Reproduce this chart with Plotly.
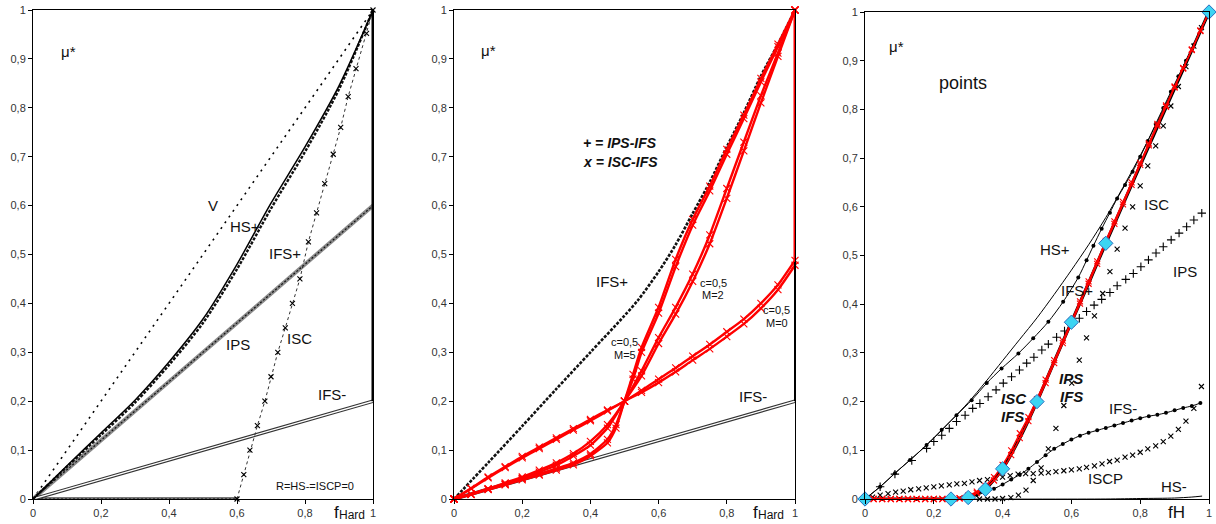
import plotly.graph_objects as go

# ---------------- Panel 1 data ----------------
p1_v_f = [0, 1]
p1_v_mu = [0, 1]
p1_f = [0, 0.1, 0.2, 0.3, 0.4, 0.5, 0.6, 0.7, 0.8, 0.9, 1.0]
p1_hsp = [0, 0.068, 0.135, 0.202, 0.28, 0.368, 0.48, 0.605, 0.72, 0.845, 1.0]
p1_ifsp = [0, 0.066, 0.131, 0.197, 0.274, 0.36, 0.47, 0.594, 0.71, 0.838, 1.0]
p1_ips_f = [0, 1]
p1_ips_mu = [0, 0.6]
p1_ifsm_f = [0, 1]
p1_ifsm_mu = [0, 0.2]
p1_isc_f = [0.6, 0.62, 0.638, 0.66, 0.682, 0.70, 0.72, 0.742, 0.763, 0.785, 0.81,
            0.834, 0.858, 0.883, 0.905, 0.927, 0.95, 0.981, 1.0]
p1_isc_mu = [0, 0.05, 0.1, 0.15, 0.2, 0.25, 0.3, 0.35, 0.4, 0.45, 0.526,
             0.585, 0.645, 0.705, 0.76, 0.823, 0.88, 0.952, 1.0]
p1_zero_f = [0, 0.6]
p1_zero_mu = [0, 0]
p1_jump_f = [1, 1]
p1_jump_mu = [0.2, 1.0]

# ---------------- Panel 2 data ----------------
p2_ifsp_f = [0, 0.1, 0.2, 0.3, 0.4, 0.5, 0.54, 0.6, 0.65, 0.7, 0.75, 0.8, 0.85, 0.9, 0.95, 1.0]
p2_ifsp_mu = [0, 0.074, 0.149, 0.225, 0.3, 0.375, 0.407, 0.465, 0.52, 0.584, 0.648, 0.72, 0.79, 0.865, 0.93, 1.0]
p2_ifsm_f = [0, 1]
p2_ifsm_mu = [0, 0.2]
p2_f = [0, 0.05, 0.1, 0.15, 0.2, 0.25, 0.3, 0.35, 0.4, 0.45, 0.5,
        0.55, 0.6, 0.65, 0.7, 0.75, 0.8, 0.85, 0.9, 0.95, 1.0]
p2_m0_a = [0, 0.022, 0.045, 0.066, 0.087, 0.106, 0.125, 0.144, 0.163, 0.182, 0.2,
           0.222, 0.245, 0.268, 0.292, 0.316, 0.342, 0.368, 0.4, 0.438, 0.488]
p2_m0_b = [0, 0.021, 0.043, 0.064, 0.084, 0.103, 0.122, 0.141, 0.16, 0.18, 0.2,
           0.218, 0.238, 0.26, 0.284, 0.307, 0.332, 0.358, 0.39, 0.428, 0.478]
p2_m2_a = [0, 0.01, 0.021, 0.033, 0.045, 0.059, 0.074, 0.093, 0.118, 0.152, 0.2,
           0.262, 0.33, 0.392, 0.46, 0.54, 0.635, 0.73, 0.825, 0.912, 1.0]
p2_m2_b = [0, 0.01, 0.02, 0.031, 0.042, 0.055, 0.069, 0.088, 0.11, 0.145, 0.2,
           0.252, 0.318, 0.378, 0.445, 0.522, 0.615, 0.712, 0.81, 0.905, 1.0]
p2_m5_f = [0, 0.05, 0.1, 0.15, 0.2, 0.25, 0.3, 0.35, 0.4, 0.45, 0.475, 0.5,
           0.525, 0.55, 0.6, 0.65, 0.7, 0.75, 0.8, 0.85, 0.9, 0.95, 1.0]
p2_m5_a = [0, 0.01, 0.02, 0.03, 0.041, 0.051, 0.062, 0.074, 0.092, 0.122, 0.152, 0.2,
           0.255, 0.31, 0.392, 0.49, 0.572, 0.64, 0.715, 0.785, 0.86, 0.93, 1.0]
p2_m5_b = [0, 0.009, 0.019, 0.029, 0.039, 0.049, 0.059, 0.07, 0.088, 0.115, 0.145, 0.2,
           0.245, 0.3, 0.38, 0.475, 0.56, 0.63, 0.705, 0.778, 0.853, 0.925, 1.0]
p2_jump_red_f = [1, 1]
p2_jump_red_mu = [0.485, 1.0]
p2_jump_blk_f = [1, 1]
p2_jump_blk_mu = [0.2, 0.485]

# ---------------- Panel 3 data ----------------
p3_hsp_f = [0, 0.05, 0.1, 0.15, 0.2, 0.25, 0.3, 0.35, 0.4, 0.45, 0.5, 0.55,
            0.6, 0.65, 0.7, 0.75, 0.8, 0.85, 0.9, 0.95, 1.0]
p3_hsp_mu = [0, 0.029, 0.061, 0.092, 0.125, 0.161, 0.198, 0.24, 0.284, 0.328, 0.372, 0.42,
             0.47, 0.522, 0.578, 0.64, 0.705, 0.775, 0.848, 0.923, 1.0]
p3_ifsp_f = [0, 0.044, 0.087, 0.131, 0.179, 0.223, 0.266, 0.31, 0.354, 0.397, 0.446, 0.489,
             0.533, 0.576, 0.62, 0.644, 0.664, 0.688, 0.712, 0.733, 0.756, 0.778, 0.8,
             0.822, 0.845, 0.867, 0.889, 0.911, 0.933, 0.956, 0.978, 1.0]
p3_ifsp_mu = [0, 0.025, 0.053, 0.08, 0.111, 0.142, 0.172, 0.203, 0.238, 0.268, 0.299, 0.33,
              0.364, 0.405, 0.455, 0.49, 0.52, 0.555, 0.588, 0.617, 0.645, 0.672, 0.703,
              0.735, 0.77, 0.803, 0.836, 0.868, 0.9, 0.933, 0.966, 1.0]
p3_ips_f = [0.044, 0.087, 0.136, 0.179, 0.2, 0.223, 0.245, 0.266, 0.291, 0.313, 0.334, 0.358,
            0.381, 0.402, 0.426, 0.449, 0.47, 0.491, 0.514, 0.533, 0.557, 0.58, 0.6, 0.623,
            0.644, 0.666, 0.688, 0.712, 0.733, 0.758, 0.78, 0.802, 0.824, 0.846, 0.867,
            0.89, 0.913, 0.935, 0.956, 0.979]
p3_ips_mu = [0.025, 0.051, 0.079, 0.104, 0.118, 0.131, 0.145, 0.159, 0.172, 0.186, 0.196, 0.21,
             0.224, 0.238, 0.251, 0.265, 0.279, 0.291, 0.306, 0.318, 0.332, 0.345, 0.358, 0.371,
             0.385, 0.398, 0.41, 0.424, 0.438, 0.451, 0.463, 0.477, 0.491, 0.505, 0.518,
             0.532, 0.546, 0.559, 0.573, 0.587]
p3_isc_f = [0.333, 0.356, 0.378, 0.4, 0.424, 0.446, 0.468, 0.489, 0.512, 0.533, 0.555, 0.578,
            0.601, 0.623, 0.644, 0.667, 0.691, 0.712, 0.733, 0.756, 0.778, 0.8, 0.822, 0.845,
            0.867, 0.889, 0.911, 0.933, 0.956, 0.978]
p3_isc_mu = [0, 0, 0, 0.001, 0.003, 0.008, 0.018, 0.038, 0.064, 0.103, 0.145, 0.192,
             0.238, 0.285, 0.331, 0.376, 0.422, 0.467, 0.513, 0.556, 0.6, 0.643, 0.684, 0.725,
             0.766, 0.807, 0.847, 0.888, 0.93, 0.968]
p3_iscp_f = [0.022, 0.044, 0.067, 0.089, 0.111, 0.133, 0.156, 0.178, 0.2, 0.222, 0.245, 0.267,
             0.289, 0.311, 0.333, 0.356, 0.378, 0.4, 0.422, 0.445, 0.467, 0.489, 0.512, 0.533,
             0.555, 0.578, 0.6, 0.623, 0.644, 0.667, 0.689, 0.711, 0.733, 0.756, 0.778, 0.8,
             0.822, 0.845, 0.867, 0.889, 0.911, 0.933, 0.956, 0.978]
p3_iscp_mu = [0.004, 0.008, 0.011, 0.014, 0.016, 0.019, 0.021, 0.023, 0.025, 0.027, 0.029, 0.031,
              0.032, 0.035, 0.038, 0.04, 0.043, 0.045, 0.048, 0.051, 0.052, 0.052, 0.053, 0.054,
              0.056, 0.058, 0.06, 0.062, 0.065, 0.068, 0.072, 0.077, 0.08, 0.086, 0.09, 0.096,
              0.103, 0.109, 0.118, 0.129, 0.143, 0.16, 0.186, 0.231]
p3_ifsm_f = [0, 0.05, 0.1, 0.15, 0.2, 0.25, 0.28, 0.3, 0.325, 0.35, 0.375, 0.4, 0.425, 0.45,
             0.475, 0.5, 0.525, 0.55, 0.575, 0.6, 0.625, 0.65, 0.675, 0.7, 0.725, 0.75,
             0.775, 0.8, 0.825, 0.85, 0.875, 0.9, 0.925, 0.95, 0.975]
p3_ifsm_mu = [0, 0, 0, 0, 0, 0, 0.002, 0.004, 0.008, 0.014, 0.021, 0.03, 0.04, 0.05,
              0.062, 0.076, 0.09, 0.103, 0.113, 0.122, 0.13, 0.136, 0.141, 0.146, 0.151, 0.156,
              0.161, 0.166, 0.17, 0.173, 0.177, 0.182, 0.187, 0.191, 0.197]
p3_hsm_f = [0, 0.7, 0.8, 0.9, 0.95, 0.98]
p3_hsm_mu = [0, 0.0, 0.001, 0.002, 0.004, 0.006]
p3_main_f = [0, 0.1, 0.2, 0.25, 0.3, 0.35, 0.4, 0.45, 0.5, 0.55, 0.6, 0.65, 0.7, 0.8, 0.9, 1.0]
p3_main_mu = [0, 0, 0, 0.0, 0.004, 0.02, 0.062, 0.125, 0.2, 0.282, 0.363, 0.443, 0.525, 0.685, 0.843, 1.0]
p3_red_f = [0, 0.025, 0.05, 0.075, 0.1, 0.125, 0.15, 0.175, 0.2, 0.225, 0.25, 0.275, 0.3, 0.325,
            0.35, 0.375, 0.4, 0.425, 0.45, 0.475, 0.5, 0.525, 0.55, 0.575, 0.6, 0.625, 0.65,
            0.675, 0.7, 0.725, 0.75, 0.775, 0.8, 0.825, 0.85, 0.875, 0.9, 0.925, 0.95, 0.975, 1.0]
p3_red_isc = [0, 0, 0, 0, 0, 0, 0, 0, 0, 0, 0, 0.002, 0.007, 0.015,
              0.027, 0.045, 0.07, 0.1, 0.135, 0.168, 0.205, 0.245, 0.285, 0.325, 0.365, 0.406, 0.447,
              0.488, 0.53, 0.57, 0.61, 0.65, 0.69, 0.73, 0.77, 0.808, 0.847, 0.885, 0.923, 0.962, 1.0]
p3_red_ips = [0, 0, 0, 0, 0, 0, 0, 0, 0, 0, 0, 0.001, 0.005, 0.012,
              0.022, 0.038, 0.06, 0.09, 0.125, 0.16, 0.198, 0.238, 0.279, 0.32, 0.36, 0.401, 0.442,
              0.483, 0.525, 0.565, 0.605, 0.645, 0.686, 0.726, 0.766, 0.805, 0.845, 0.884, 0.922, 0.961, 1.0]
p3_pts_f = [0, 0.25, 0.3, 0.35, 0.4, 0.5, 0.6, 0.7, 1.0]
p3_pts_mu = [0, 0.0, 0.003, 0.02, 0.062, 0.2, 0.363, 0.525, 1.0]

# ---------------- tick labels ----------------
x_tickvals = [0, 0.2, 0.4, 0.6, 0.8, 1]
x_ticktext = ["0", "0,2", "0,4", "0,6", "0,8", "1"]
y_tickvals = [0, 0.1, 0.2, 0.3, 0.4, 0.5, 0.6, 0.7, 0.8, 0.9, 1]
y_ticktext = ["0", "0,1", "0,2", "0,3", "0,4", "0,5", "0,6", "0,7", "0,8", "0,9", "1"]

FONT = "Liberation Sans, Arial, sans-serif"
RED = "#ff0000"

fig = go.Figure()


def line(xa, ya, f, mu, color="black", width=1.5, dash="solid", shape="linear",
         mode="lines", marker=None, smoothing=0.8):
    kw = dict(x=f, y=mu, mode=mode, xaxis=xa, yaxis=ya, showlegend=False,
              cliponaxis=False, hoverinfo="skip")
    if "lines" in mode:
        ln = dict(color=color, width=width, dash=dash, shape=shape)
        if shape == "spline":
            ln["smoothing"] = smoothing
        kw["line"] = ln
    if marker is not None:
        kw["marker"] = marker
    fig.add_trace(go.Scatter(**kw))


def xmark(color="black", size=5, sym="x-thin", w=1.1):
    return dict(symbol=sym, size=size, color=color, line=dict(color=color, width=w))


# ---------- Panel 1 ----------
a = ("x", "y")
line(*a, p1_zero_f, p1_zero_mu, color="#777777", width=4)
line(*a, p1_zero_f, p1_zero_mu, color="#111111", width=1.2, dash="2px,2px")
line(*a, p1_v_f, p1_v_mu, color="black", width=1.6, dash="2px,5px")
line(*a, p1_ips_f, p1_ips_mu, color="#8a8a8a", width=4)
line(*a, p1_ips_f, p1_ips_mu, color="#111111", width=1.2, dash="2px,2px")
line(*a, p1_ifsm_f, p1_ifsm_mu, color="#333333", width=3.6)
line(*a, p1_ifsm_f, p1_ifsm_mu, color="white", width=1.3)
line(*a, p1_f, p1_ifsp, color="#111111", width=2.4, dash="3px,1.5px", shape="spline")
line(*a, p1_f, p1_hsp, color="black", width=1.5, shape="spline")
line(*a, p1_isc_f, p1_isc_mu, color="#333333", width=1, dash="3px,3px", mode="lines+markers",
     marker=xmark(size=5))
line(*a, p1_jump_f, p1_jump_mu, color="black", width=3)

# ---------- Panel 2 ----------
a = ("x2", "y2")
line(*a, p2_ifsm_f, p2_ifsm_mu, color="#333333", width=3.6)
line(*a, p2_ifsm_f, p2_ifsm_mu, color="white", width=1.3)
line(*a, p2_ifsp_f, p2_ifsp_mu, color="#111111", width=2.6, dash="3px,1.5px", shape="spline")
for fx, yy in [(p2_f, p2_m0_a), (p2_f, p2_m0_b), (p2_f, p2_m2_a), (p2_f, p2_m2_b),
               (p2_m5_f, p2_m5_a), (p2_m5_f, p2_m5_b)]:
    line(*a, fx, yy, color=RED, width=2.4, shape="spline", smoothing=0.6,
         mode="lines+markers", marker=xmark(color=RED, size=7))
line(*a, p2_jump_blk_f, p2_jump_blk_mu, color="black", width=2)
line(*a, p2_jump_red_f, p2_jump_red_mu, color=RED, width=3)

# ---------- Panel 3 ----------
a = ("x3", "y3")
line(*a, p3_hsm_f, p3_hsm_mu, color="black", width=1, shape="spline")
line(*a, p3_iscp_f, p3_iscp_mu, mode="markers", marker=xmark(size=5))
line(*a, p3_isc_f, p3_isc_mu, mode="markers", marker=xmark(size=5))
line(*a, p3_ips_f, p3_ips_mu, mode="markers", marker=xmark(size=6, sym="cross-thin"))
line(*a, p3_ifsm_f, p3_ifsm_mu, color="black", width=1, shape="spline", mode="lines+markers",
     marker=dict(symbol="circle", size=4, color="black"))
line(*a, p3_hsp_f, p3_hsp_mu, color="black", width=1, shape="spline")
line(*a, p3_ifsp_f, p3_ifsp_mu, color="black", width=1, shape="spline", mode="lines+markers",
     marker=dict(symbol="circle", size=4, color="black"))
line(*a, p3_main_f, p3_main_mu, color="black", width=3.2, shape="spline", smoothing=0.5)
line(*a, p3_red_f, p3_red_ips, color=RED, width=1.5, shape="spline", smoothing=0.5,
     mode="lines+markers", marker=xmark(color=RED, size=6))
line(*a, p3_red_f, p3_red_isc, color=RED, width=1.5, shape="spline", smoothing=0.5,
     mode="lines+markers", marker=xmark(color=RED, size=6))
line(*a, p3_pts_f, p3_pts_mu, mode="markers",
     marker=dict(symbol="diamond", size=11, color="#3cd4f2", line=dict(color="#2a6fc0", width=1)))

# ---------- axes ----------
xd = {1: [33 / 1216, 373 / 1216], 2: [454 / 1216, 795 / 1216], 3: [865 / 1216, 1209 / 1216]}
yd = {1: [1 - 499 / 524, 1 - 10 / 524], 2: [1 - 499 / 524, 1 - 10 / 524], 3: [1 - 499 / 524, 1 - 12 / 524]}
tickfont = dict(family=FONT, size=11, color="#333333")
layout_axes = {}
for i in (1, 2, 3):
    sx = "" if i == 1 else str(i)
    layout_axes["xaxis" + sx] = dict(
        domain=xd[i], range=[0, 1], anchor="y" + sx, tickvals=x_tickvals, ticktext=x_ticktext,
        ticks="outside", ticklen=4, tickcolor="black", showline=True, linecolor="black",
        linewidth=1, mirror=True, showgrid=False, zeroline=False, tickfont=tickfont,
        automargin=False)
    layout_axes["yaxis" + sx] = dict(
        domain=yd[i], range=[0, 1], anchor="x" + sx, tickvals=y_tickvals, ticktext=y_ticktext,
        ticks="outside", ticklen=4, tickcolor="black", showline=True, linecolor="black",
        linewidth=1, mirror=True, showgrid=False, zeroline=False, tickfont=tickfont,
        automargin=False)

# ---------- annotations ----------
L = 15
texts = [
    # panel 1
    ("x", "y", 0.104, 0.915, "μ*", L),
    ("x", "y", 0.53, 0.60, "V", L),
    ("x", "y", 0.624, 0.557, "HS+", L),
    ("x", "y", 0.741, 0.502, "IFS+", L),
    ("x", "y", 0.604, 0.315, "IPS", L),
    ("x", "y", 0.785, 0.329, "ISC", L),
    ("x", "y", 0.878, 0.213, "IFS-", L),
    ("x", "y", 0.829, 0.026, "R=HS-=ISCP=0", 11),
    # panel 2
    ("x2", "y2", 0.10, 0.918, "μ*", L),
    ("x2", "y2", 0.487, 0.729, "<b><i>+ = IPS-IFS</i></b>", 14),
    ("x2", "y2", 0.487, 0.690, "<b><i>x = ISC-IFS</i></b>", 14),
    ("x2", "y2", 0.462, 0.444, "IFS+", L),
    ("x2", "y2", 0.76, 0.441, "c=0,5", 11),
    ("x2", "y2", 0.76, 0.417, "M=2", 11),
    ("x2", "y2", 0.946, 0.386, "c=0,5", 11),
    ("x2", "y2", 0.946, 0.359, "M=0", 11),
    ("x2", "y2", 0.50, 0.322, "c=0,5", 11),
    ("x2", "y2", 0.50, 0.294, "M=5", 11),
    ("x2", "y2", 0.878, 0.209, "IFS-", L),
    # panel 3
    ("x3", "y3", 0.092, 0.93, "μ*", L),
    ("x3", "y3", 0.286, 0.854, "points", 18),
    ("x3", "y3", 0.848, 0.604, "ISC", L),
    ("x3", "y3", 0.552, 0.513, "HS+", L),
    ("x3", "y3", 0.93, 0.467, "IPS", L),
    ("x3", "y3", 0.615, 0.429, "IFS+", L),
    ("x3", "y3", 0.60, 0.248, "<b><i>IPS</i></b>", L),
    ("x3", "y3", 0.60, 0.21, "<b><i>IFS</i></b>", L),
    ("x3", "y3", 0.433, 0.207, "<b><i>ISC</i></b>", L),
    ("x3", "y3", 0.428, 0.169, "<b><i>IFS</i></b>", L),
    ("x3", "y3", 0.75, 0.186, "IFS-", L),
    ("x3", "y3", 0.70, 0.042, "ISCP", L),
    ("x3", "y3", 0.898, 0.025, "HS-", L),
]
anns = []
for xr, yr, x, y, t, s in texts:
    anns.append(dict(xref=xr, yref=yr, x=x, y=y, text=t, showarrow=False,
                     font=dict(family=FONT, size=s, color="#111111"),
                     xanchor="center", yanchor="middle", align="center"))
# axis labels (f large, subscript smaller)
ylab = 1 - 512 / 524
for xr, xf, xs in [("x", 0.893, 0.937), ("x2", 0.885, 0.929)]:
    anns.append(dict(xref=xr, yref="paper", x=xf, y=ylab, text="f", showarrow=False,
                     font=dict(family=FONT, size=17, color="#111111"),
                     xanchor="center", yanchor="middle"))
    anns.append(dict(xref=xr, yref="paper", x=xs, y=ylab - 0.005, text="Hard", showarrow=False,
                     font=dict(family=FONT, size=12, color="#111111"),
                     xanchor="center", yanchor="middle"))
anns.append(dict(xref="x3", yref="paper", x=0.906, y=ylab, text="fH", showarrow=False,
                 font=dict(family=FONT, size=17, color="#111111"),
                 xanchor="center", yanchor="middle"))

fig.update_layout(
    width=1216, height=524, autosize=False,
    margin=dict(l=0, r=0, t=0, b=0, pad=0),
    paper_bgcolor="white", plot_bgcolor="white",
    font=dict(family=FONT),
    annotations=anns,
    **layout_axes,
)

fig.write_html("out.html", config={"displayModeBar": False},
               post_script="document.body.style.margin='0px';document.body.style.overflow='hidden';")
